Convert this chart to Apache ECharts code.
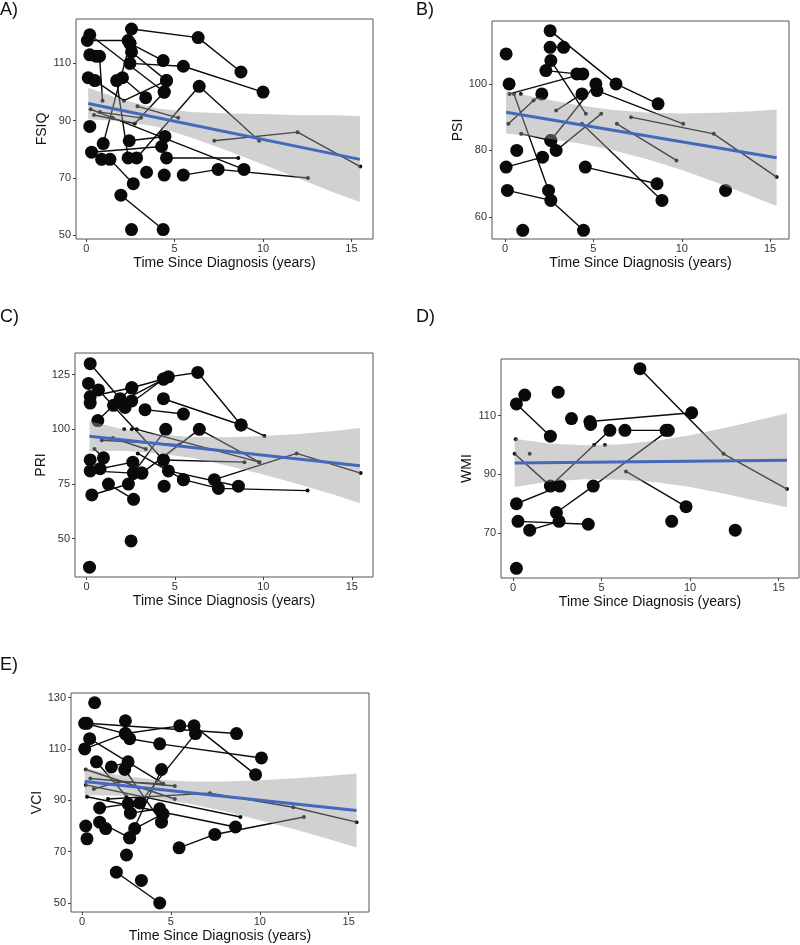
<!DOCTYPE html>
<html>
<head>
<meta charset="utf-8">
<script src="https://cdn.jsdelivr.net/npm/echarts@6/dist/echarts.min.js"></script>
<style>
html,body{margin:0;padding:0;background:#fff}
#chart{width:800px;height:945px}
</style>
</head>
<body>
<div id="chart"></div>
<script>
// one trajectory per subject: [years since diagnosis, score, weight] (weight 1 = full, 0 = low)
var xTicks = [0, 5, 10, 15];

var fsiqSubjects = [
  [[2.56,122,1],[6.33,119,1],[8.75,107,1]],
  [[0.06,118,1],[2.37,118,1]],
  [[0.2,120,1],[4.41,100,1]],
  [[2.56,114,1],[4.54,104,1]],
  [[2.47,117,1],[4.35,111,1]],
  [[2.47,110,1],[5.49,109,1],[10.0,100,1]],
  [[2.85,77,1],[6.39,102,1],[9.78,83,0]],
  [[2.05,105,1],[3.36,98,1]],
  [[0.11,105,1]],
  [[0.49,104,1],[2.13,97,0],[4.54,104,1]],
  [[0.2,113,1],[0.55,112.5,1]],
  [[0.75,112.5,1],[0.92,97,0]],
  [[0.44,92,0],[2.75,89,0],[4.41,100,1]],
  [[2.9,95,0],[5.2,91,0]],
  [[0.77,93,0],[3.1,91,0]],
  [[0.25,94,0],[1.49,91,0],[8.92,73,1]],
  [[7.24,83,0],[11.95,86,0],[15.5,74,0]],
  [[0.2,88,1]],
  [[0.96,82,1],[2.47,117,1]],
  [[1.72,104,1],[2.37,77,1]],
  [[0.3,79,1],[4.26,81,1]],
  [[0.87,76.5,1],[1.34,76.5,1],[2.66,68,1]],
  [[4.54,77,1],[8.6,77,0]],
  [[2.43,83,1],[4.45,84.5,1]],
  [[1.96,64,1],[4.35,52,1]],
  [[2.56,52,1]],
  [[3.41,72,1]],
  [[4.41,71,1]],
  [[5.49,71,1],[7.46,73,1],[12.54,70,0]]
];
var fsiqFit = [[0.11, 96.0], [15.48, 76.5]];
var fsiqBandX = [0.11, 2, 4, 6, 8, 10, 12, 14, 15.48];
var fsiqBandHi = [101.5, 97.4, 94.3, 93.0, 92.5, 92.3, 91.9, 91.9, 91.6];
var fsiqBandLo = [90.5, 89.8, 87.9, 84.0, 79.5, 74.7, 69.9, 64.9, 61.6];
var fsiqTicks = [50, 70, 90, 110];

var psiSubjects = [
  [[2.55,116,1],[6.28,100,1],[8.66,94,1]],
  [[2.55,111,1],[3.31,111,1]],
  [[0.06,109,1]],
  [[2.59,107,1],[4.57,91,0]],
  [[2.31,104,1],[4.06,103,1]],
  [[0.23,100,1]],
  [[0.25,97,0],[4.4,103,1]],
  [[0.5,97,0],[2.46,68,1]],
  [[0.89,97,0]],
  [[0.19,88,0],[1.61,95,0],[2.08,97,1]],
  [[0.91,85,0],[2.59,83,1]],
  [[2.89,80,1],[5.44,91,0]],
  [[2.59,83,1],[5.14,100,1]],
  [[2.89,92,0],[4.35,97,1]],
  [[5.2,98,1],[10.08,88,0]],
  [[4.35,88,0],[8.88,65,1]],
  [[6.33,88,0],[9.7,77,0]],
  [[7.13,90,0],[11.81,85,0],[15.37,72,0]],
  [[0.66,80,1]],
  [[0.06,75,1],[2.12,78,1]],
  [[4.54,75,1],[8.6,70,1]],
  [[0.13,68,1],[2.59,65,1],[4.44,56,1]],
  [[1.0,56,1]],
  [[12.48,68,1]]
];
var psiFit = [[0.06, 91.5], [15.37, 77.8]];
var psiBandX = [0.06, 2, 4, 6, 8, 10, 12, 14, 15.37];
var psiBandHi = [97.9, 95.7, 93.7, 92.2, 91.4, 91.1, 91.3, 91.8, 92.3];
var psiBandLo = [85.1, 83.9, 82.3, 80.2, 77.4, 74.1, 70.3, 66.2, 63.3];
var psiTicks = [60, 80, 100];

var priSubjects = [
  [[0.21,130,1],[1.9,114,1]],
  [[0.11,121,1],[0.68,118,1],[4.35,86,1]],
  [[0.21,115,1],[2.56,119,1],[4.35,123,1]],
  [[0.21,112,1]],
  [[1.53,111,1],[4.63,124,1],[6.29,126,1],[8.74,102,1]],
  [[0.64,104,1],[2.56,119,1]],
  [[2.18,110,1],[4.35,123,1]],
  [[4.35,114,1],[8.74,102,1],[10.06,97,0]],
  [[3.31,109,1],[5.48,107,1]],
  [[2.56,113,1]],
  [[2.66,80,1],[4.48,100,1]],
  [[3.13,80,1],[6.38,100,1],[9.77,85,0]],
  [[2.13,100,0]],
  [[2.56,100,0]],
  [[2.84,100,0],[9.77,85,0]],
  [[0.45,91,0],[0.96,87,1]],
  [[0.87,95,0],[5.25,93,0]],
  [[1.49,96,0],[3.35,91,0]],
  [[2.9,89,0],[5.48,77,1]],
  [[0.21,86,1]],
  [[0.21,81,1],[2.66,80,1]],
  [[0.77,82,1],[2.62,85,1]],
  [[4.35,86,1],[8.93,85,0]],
  [[4.63,81,1],[8.59,74,1]],
  [[7.23,77,1],[11.88,89,0],[15.5,80,0]],
  [[5.48,77,1],[7.46,73,1],[12.5,72,0]],
  [[4.39,74,1]],
  [[1.24,75,1],[2.66,68,1]],
  [[0.3,70,1],[2.37,75,1],[3.13,80,1]],
  [[2.52,49,1]],
  [[0.17,37,1]]
];
var priFit = [[0.17, 96.8], [15.46, 83.4]];
var priBandX = [0.17, 2, 4, 6, 8, 10, 12, 14, 15.46];
var priBandHi = [103.7, 100.2, 97.7, 96.5, 96.4, 97.0, 97.9, 99.3, 100.6];
var priBandLo = [89.9, 90.2, 89.1, 86.9, 83.4, 79.4, 74.9, 70.1, 66.2];
var priTicks = [50, 75, 100, 125];

var wmiSubjects = [
  [[7.17,126,1],[11.89,97,0],[15.47,85,0]],
  [[0.19,114,1],[2.11,103,1]],
  [[0.66,117,1]],
  [[2.55,118,1]],
  [[3.3,109,1]],
  [[4.34,108,1],[10.09,111,1]],
  [[4.38,107,1]],
  [[0.15,102,0]],
  [[0.09,97,0],[2.11,86,1],[4.58,100,0],[5.47,105,1]],
  [[0.94,97,0]],
  [[5.19,100,0]],
  [[6.32,105,1],[8.64,105,1]],
  [[2.45,77,1],[4.53,86,1],[8.77,105,1]],
  [[0.19,80,1],[2.64,86,1]],
  [[0.28,74,1],[4.25,73,1]],
  [[0.94,71,1],[2.6,74,1]],
  [[6.38,91,0],[9.77,79,1]],
  [[8.96,74,1]],
  [[12.55,71,1]],
  [[0.19,58,1]]
];
var wmiFit = [[0.09, 93.9], [15.47, 94.8]];
var wmiBandX = [0.09, 2, 4, 6, 8, 10, 12, 14, 15.47];
var wmiBandHi = [102.1, 100.5, 99.9, 100.2, 101.4, 103.3, 105.9, 108.7, 110.8];
var wmiBandLo = [85.7, 87.5, 88.3, 88.2, 87.4, 85.7, 83.3, 80.7, 78.8];
var wmiTicks = [70, 90, 110];

var vciSubjects = [
  [[0.71,128,1]],
  [[0.15,120,1],[2.44,116,1],[5.5,119,1],[6.3,119,1],[9.76,100,1]],
  [[0.28,120,1],[8.69,116,1]],
  [[2.44,121,1]],
  [[2.68,114,1],[4.37,112,1],[10.09,106.5,1]],
  [[0.15,110,1],[2.44,116,1]],
  [[0.43,114,1],[4.56,96.5,0]],
  [[0.81,105,1],[2.5,91.5,0]],
  [[1.65,103,1],[2.59,105,1]],
  [[2.4,102,1],[4.47,81.5,1]],
  [[2.68,75.4,1],[4.47,102,1]],
  [[3.25,89,1],[6.38,116,1]],
  [[0.21,102,0],[5.22,90.5,0]],
  [[0.47,98.5,0],[5.22,95.6,0]],
  [[0.21,96,0],[8.91,83.5,0]],
  [[0.28,91.4,0],[8.63,79.6,1]],
  [[0.66,94.4,0],[2.06,97.2,0],[4.56,96.5,0]],
  [[1.46,90.5,0],[7.19,92.8,0],[11.88,87.3,0],[15.44,81.5,0]],
  [[5.46,71.5,1],[7.47,76.7,1],[12.48,83.5,0]],
  [[0.99,87,1],[2.59,88.6,1]],
  [[0.21,80,1]],
  [[0.28,75,1]],
  [[0.99,81.5,1],[2.68,75.4,1]],
  [[1.33,79,1]],
  [[2.72,85,1],[4.37,86.7,1]],
  [[2.96,79,1],[4.56,84.7,1]],
  [[2.5,68.7,1]],
  [[1.93,62,1],[4.37,50,1]],
  [[3.34,58.8,1]]
];
var vciFit = [[0.15, 97.3], [15.44, 86.0]];
var vciBandX = [0.15, 2, 4, 6, 8, 10, 12, 14, 15.44];
var vciBandHi = [102.6, 99.9, 98.1, 97.3, 97.3, 97.8, 98.6, 99.6, 100.4];
var vciBandLo = [92.0, 91.9, 90.9, 88.7, 85.7, 82.2, 78.6, 74.6, 71.6];
var vciTicks = [50, 70, 90, 110, 130];

var FONT = '"Liberation Sans", Arial, Helvetica, sans-serif';
var X_TITLE = 'Time Since Diagnosis (years)';

var panels = [
  {label:'A)', name:'FSIQ', subjects:fsiqSubjects, fit:fsiqFit, bandX:fsiqBandX, bandHi:fsiqBandHi, bandLo:fsiqBandLo, ticks:fsiqTicks,
   grid:{left:76, top:19, width:297, height:220}, x:[-0.58, 16.22], y:[48.7, 125.5], pos:{left:0, top:1}},
  {label:'B)', name:'PSI', subjects:psiSubjects, fit:psiFit, bandX:psiBandX, bandHi:psiBandHi, bandLo:psiBandLo, ticks:psiTicks,
   grid:{left:492, top:21, width:297, height:218}, x:[-0.74, 16.07], y:[53.4, 118.9], pos:{left:416, top:1}},
  {label:'C)', name:'PRI', subjects:priSubjects, fit:priFit, bandX:priBandX, bandHi:priBandHi, bandLo:priBandLo, ticks:priTicks,
   grid:{left:75, top:353, width:298, height:224}, x:[-0.65, 16.2], y:[32.5, 134.9], pos:{left:0, top:308}},
  {label:'D)', name:'WMI', subjects:wmiSubjects, fit:wmiFit, bandX:wmiBandX, bandHi:wmiBandHi, bandLo:wmiBandLo, ticks:wmiTicks,
   grid:{left:501, top:359, width:298, height:219}, x:[-0.68, 16.15], y:[54.7, 129.3], pos:{left:416, top:308}},
  {label:'E)', name:'VCI', subjects:vciSubjects, fit:vciFit, bandX:vciBandX, bandHi:vciBandHi, bandLo:vciBandLo, ticks:vciTicks,
   grid:{left:71, top:693, width:298, height:219}, x:[-0.62, 16.14], y:[46.5, 131.8], pos:{left:0, top:656}}
];

var grids = [], xAxes = [], yAxes = [], titles = [], series = [];

function bandRender(p){
  return function(params, api){
    var pts = [];
    for (var k = 0; k < p.bandX.length; k++) pts.push(api.coord([p.bandX[k], p.bandHi[k]]));
    for (var k = p.bandX.length - 1; k >= 0; k--) pts.push(api.coord([p.bandX[k], p.bandLo[k]]));
    return {type:'polygon', shape:{points:pts}, style:{fill:'rgba(153,153,153,0.45)'}};
  };
}

panels.forEach(function(p, i){
  grids.push({left:p.grid.left, top:p.grid.top, width:p.grid.width, height:p.grid.height,
    show:true, borderColor:'#555', borderWidth:1, backgroundColor:'#fff'});
  xAxes.push({
    type:'value', gridIndex:i, min:p.x[0], max:p.x[1],
    name:X_TITLE, nameLocation:'middle', nameGap:17,
    nameTextStyle:{fontSize:14, color:'#111', fontFamily:FONT},
    axisLine:{show:false, onZero:false},
    axisTick:{show:true, length:3, customValues:xTicks, lineStyle:{color:'#444'}},
    axisLabel:{customValues:xTicks, fontSize:11, color:'#333', margin:4, fontFamily:FONT},
    splitLine:{show:false}
  });
  yAxes.push({
    type:'value', gridIndex:i, min:p.y[0], max:p.y[1],
    name:p.name, nameLocation:'middle', nameGap:26,
    nameTextStyle:{fontSize:14, color:'#111', fontFamily:FONT},
    axisLine:{show:false, onZero:false},
    axisTick:{show:true, length:3, customValues:p.ticks, lineStyle:{color:'#444'}},
    axisLabel:{customValues:p.ticks, fontSize:11, color:'#333', margin:5, fontFamily:FONT},
    splitLine:{show:false}
  });
  titles.push({text:p.label, left:p.pos.left, top:p.pos.top, padding:0,
    textStyle:{fontSize:18, fontWeight:'normal', color:'#111', fontFamily:FONT}});

  var pts = [];
  p.subjects.forEach(function(s){
    s.forEach(function(pt){ pts.push(pt); });
    if (s.length < 2) return;
    series.push({
      type:'line', xAxisIndex:i, yAxisIndex:i, silent:true, z:3,
      data:s.map(function(pt){ return [pt[0], pt[1]]; }),
      symbol:'none', lineStyle:{color:'#0a0a0a', width:1.4}
    });
  });
  series.push({
    type:'scatter', xAxisIndex:i, yAxisIndex:i, silent:true, z:2,
    data:pts,
    symbolSize:function(v){ return v[2] ? 13 : 4; },
    itemStyle:{color:'#0a0a0a', opacity:1}
  });
  series.push({
    type:'custom', xAxisIndex:i, yAxisIndex:i, silent:true, z:4, clip:true,
    data:[[p.bandX[0], p.bandHi[0]]],
    renderItem:bandRender(p)
  });
  series.push({
    type:'line', xAxisIndex:i, yAxisIndex:i, silent:true, z:5,
    data:p.fit, symbol:'none', lineStyle:{color:'#4468bc', width:3}
  });
});

var chart = echarts.init(document.getElementById('chart'));
chart.setOption({
  animation:false,
  backgroundColor:'#fff',
  title:titles,
  grid:grids,
  xAxis:xAxes,
  yAxis:yAxes,
  series:series
});
</script>
</body>
</html>
